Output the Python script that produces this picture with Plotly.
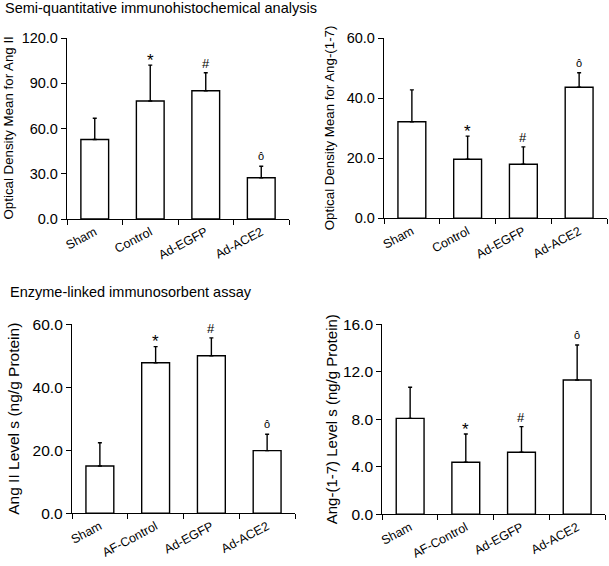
import plotly.graph_objects as go

W, H = 609, 566

# ---- data ----
cats_top = ["Sham", "Control", "Ad-EGFP", "Ad-ACE2"]
cats_bottom = ["Sham", "AF-Control", "Ad-EGFP", "Ad-ACE2"]

ihc_ang2 = [52.7, 78.2, 85.0, 27.3]
ihc_ang2_err = [14.1, 23.8, 12.0, 7.7]

ihc_ang17 = [32.2, 19.7, 18.0, 43.7]
ihc_ang17_err = [10.6, 7.7, 5.8, 4.8]

elisa_ang2 = [15.0, 47.8, 50.0, 19.9]
elisa_ang2_err = [7.4, 5.1, 5.7, 5.2]

elisa_ang17 = [8.08, 4.38, 5.22, 11.31]
elisa_ang17_err = [2.62, 2.38, 2.16, 2.95]

sig_marks = ["", "*", "#", "ô"]

title_top = "Semi-quantitative immunohistochemical analysis"
title_bottom = "Enzyme-linked immunosorbent assay"

FONT = "Liberation Sans, Arial, sans-serif"

# styling of significance marks (size, vertical shift in px)
MARK_STYLE = {"*": (17, 5), "#": (13, 9), "ô": (11, 10)}

panels = [
    dict(cats=cats_top, vals=ihc_ang2, err=ihc_ang2_err, ymax=120, dtick=30,
         ytitle="Optical Density Mean for Ang II", px=(67, 289), py=(38, 219),
         tx=8, tsize=13.3, tickfs=14.5),
    dict(cats=cats_top, vals=ihc_ang17, err=ihc_ang17_err, ymax=60, dtick=20,
         ytitle="Optical Density Mean for Ang-(1-7)", px=(384, 607), py=(38.3, 218.3),
         tx=329, tsize=13.3, tickfs=14.5),
    dict(cats=cats_bottom, vals=elisa_ang2, err=elisa_ang2_err, ymax=60, dtick=20,
         ytitle="Ang II Level s (ng/g Protein)", px=(72, 295), py=(324.3, 513.3),
         tx=14, tsize=15.5, tickfs=15.5),
    dict(cats=cats_bottom, vals=elisa_ang17, err=elisa_ang17_err, ymax=16, dtick=4,
         ytitle="Ang-(1-7) Level s (ng/g Protein)", px=(382.3, 605), py=(324.3, 514.3),
         tx=331, tsize=15, tickfs=15.5),
]

fig = go.Figure()
annotations = []
layout = {}

for i, p in enumerate(panels, start=1):
    xa = "x" if i == 1 else f"x{i}"
    ya = "y" if i == 1 else f"y{i}"
    fig.add_trace(go.Bar(
        x=p["cats"], y=p["vals"], xaxis=xa, yaxis=ya, width=0.5,
        marker=dict(color="white", line=dict(color="black", width=1.4)),
        error_y=dict(type="data", symmetric=False, array=p["err"],
                     arrayminus=[0] * len(p["err"]), color="black",
                     thickness=1.4, width=2),
        showlegend=False, hoverinfo="skip",
    ))
    xd = [p["px"][0] / W, p["px"][1] / W]
    yd = [(H - p["py"][1]) / H, (H - p["py"][0]) / H]
    layout[f"xaxis{'' if i == 1 else i}"] = dict(
        domain=xd, anchor=ya, type="category", range=[-0.5, 3.5],
        showline=True, linecolor="black", linewidth=1.3, automargin=False,
        ticks="outside", tickson="boundaries", ticklen=5, tickcolor="black",
        tickwidth=1.3, tickangle=-28, showgrid=False, zeroline=False,
        tickfont=dict(family=FONT, size=12.5, color="black"),
    )
    layout[f"yaxis{'' if i == 1 else i}"] = dict(
        domain=yd, anchor=xa, range=[0, p["ymax"]], dtick=p["dtick"],
        tickformat=".1f", showline=True, linecolor="black", linewidth=1.3,
        automargin=False,
        ticks="outside", ticklen=5, tickcolor="black", tickwidth=1.3,
        showgrid=False, zeroline=False,
        tickfont=dict(family=FONT, size=p["tickfs"], color="black"),
    )
    annotations.append(dict(
        text=p["ytitle"], xref="paper", yref="paper",
        x=p["tx"] / W, y=(yd[0] + yd[1]) / 2, textangle=-90,
        xanchor="center", yanchor="middle", showarrow=False,
        font=dict(family=FONT, size=p["tsize"], color="black"),
    ))
    for c, v, e, m in zip(p["cats"], p["vals"], p["err"], sig_marks):
        if not m:
            continue
        size, shift = MARK_STYLE[m]
        annotations.append(dict(
            text=m, x=c, y=v + e, xref=xa, yref=ya, showarrow=False,
            yanchor="middle", yshift=shift,
            font=dict(family=FONT, size=size, color="black"),
        ))

annotations.append(dict(text=title_top, xref="paper", yref="paper",
                        x=3 / W, y=(H - 8.5) / H, xanchor="left", yanchor="middle",
                        showarrow=False, font=dict(family=FONT, size=14.5, color="black")))
annotations.append(dict(text=title_bottom, xref="paper", yref="paper",
                        x=8 / W, y=(H - 292) / H, xanchor="left", yanchor="middle",
                        showarrow=False, font=dict(family=FONT, size=14.5, color="black")))

fig.update_layout(
    width=W, height=H, margin=dict(l=0, r=0, t=0, b=0, autoexpand=False),
    paper_bgcolor="white", plot_bgcolor="white",
    annotations=annotations, bargap=0.5, **layout,
)

fig.write_html("out.html", config={"displayModeBar": False},
               post_script="document.body.style.margin='0px';document.body.style.overflow='hidden';")
